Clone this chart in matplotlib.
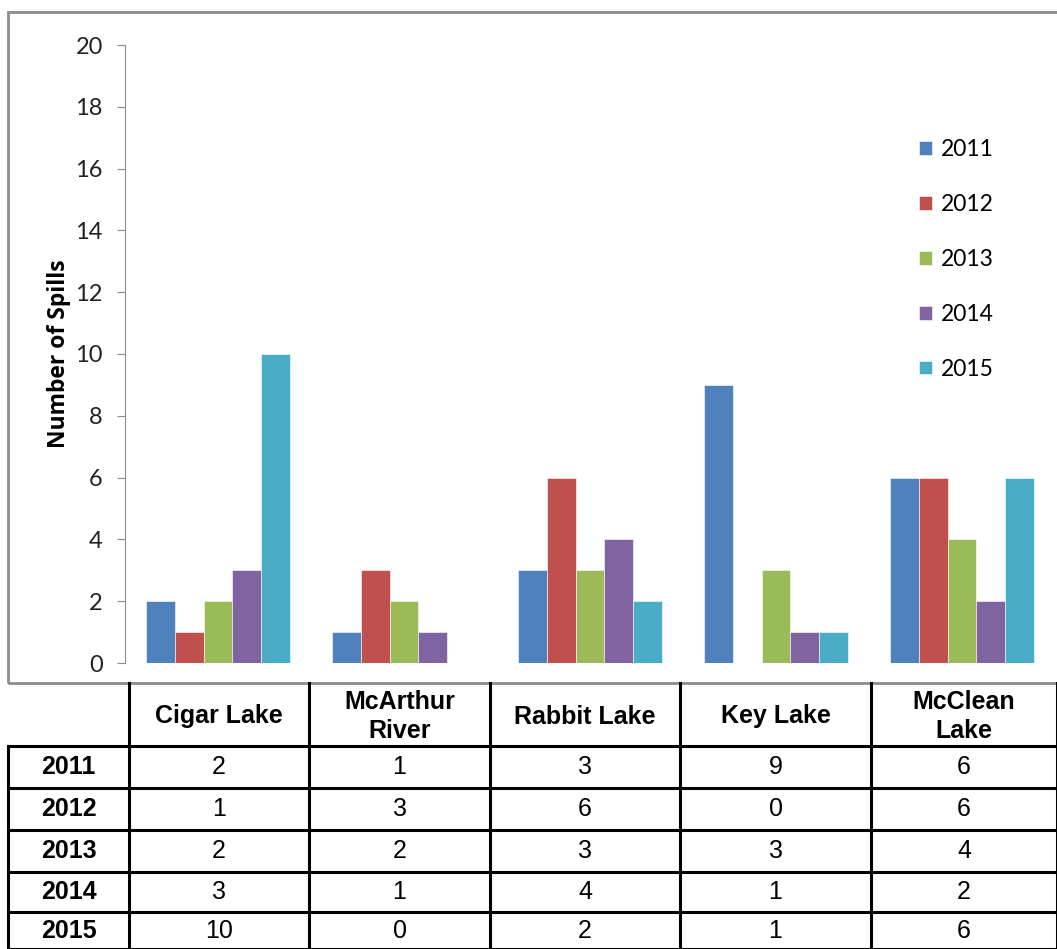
import matplotlib.pyplot as plt
from matplotlib.lines import Line2D
from matplotlib.patches import Rectangle
import numpy as np

mines = ['Cigar Lake', 'McArthur River', 'Rabbit Lake', 'Key Lake', 'McClean Lake']
header_labels = ['Cigar Lake', 'McArthur\nRiver', 'Rabbit Lake', 'Key Lake', 'McClean\nLake']
years = ['2011', '2012', '2013', '2014', '2015']
spills_2011 = [2, 1, 3, 9, 6]
spills_2012 = [1, 3, 6, 0, 6]
spills_2013 = [2, 2, 3, 3, 4]
spills_2014 = [3, 1, 4, 1, 2]
spills_2015 = [10, 0, 2, 1, 6]
series = [spills_2011, spills_2012, spills_2013, spills_2014, spills_2015]
colors = ['#4F81BD', '#C0504D', '#9BBB59', '#8064A2', '#4BACC6']

W, H = 1057, 949
fig = plt.figure(figsize=(W / 100, H / 100), dpi=100)


def fx(px):
    return px / W


def fy(py):
    return 1 - py / H


# chart area frame
fig.add_artist(Rectangle((fx(8), fy(683)), fx(1070) - fx(8), fy(12) - fy(683),
                         transform=fig.transFigure, fill=False,
                         edgecolor='#8c8c8c', linewidth=2))

ax = fig.add_axes([fx(125), fy(663), fx(1055) - fx(125), fy(45) - fy(663)])
x = np.arange(len(mines))
bw = 0.154
for i, (vals, yr) in enumerate(zip(series, years)):
    ax.bar(x + (i - 2) * bw, vals, bw, color=colors[i], label=yr,
           edgecolor='white', linewidth=0.4)

ax.set_xlim(-0.5, 4.5)
ax.set_ylim(0, 20)
ax.set_yticks(range(0, 21, 2))
ax.set_xticks([])
for s in ['top', 'right', 'bottom']:
    ax.spines[s].set_visible(False)
ax.spines['left'].set_color('#8c8c8c')
ax.tick_params(axis='y', direction='out', length=6, color='#8c8c8c',
               labelsize=17, pad=10)
for t in ax.get_yticklabels():
    t.set_fontfamily('Lato')
    t.set_color('#222222')
ax.set_ylabel('Number of Spills', fontsize=16.5, fontweight='bold',
              fontfamily='Open Sans')
ax.yaxis.set_label_coords(-(125 - 71) / (1055 - 125), 0.5)

ax.legend(loc='upper left', bbox_to_anchor=(fx(919), fy(139)),
          bbox_transform=fig.transFigure, frameon=False,
          prop={'family': 'Lato', 'size': 16.5}, handlelength=0.55,
          handleheight=0.55, handletextpad=0.4, labelspacing=1.48,
          borderpad=0, borderaxespad=0)

# data table under the chart
col_x = [8, 129, 309, 490, 680, 871, 1057]
row_y = [683, 746, 788, 830, 872, 912, 949]
lw = 2.2


def hline(y, x0, x1):
    fig.add_artist(Line2D([fx(x0), fx(x1)], [fy(y), fy(y)], color='black',
                          linewidth=lw, transform=fig.transFigure))


def vline(x_, y0, y1):
    fig.add_artist(Line2D([fx(x_), fx(x_)], [fy(y0), fy(y1)], color='black',
                          linewidth=lw, transform=fig.transFigure))


for y in row_y[1:]:
    hline(y, col_x[0], col_x[-1])
for xv in col_x[1:]:
    vline(xv, row_y[0], row_y[-1])
vline(col_x[0], row_y[1], row_y[-1])

for j, lab in enumerate(header_labels):
    cx = (col_x[j + 1] + col_x[j + 2]) / 2
    cy = (row_y[0] + row_y[1]) / 2 + 2
    fig.text(fx(cx), fy(cy), lab, ha='center', va='center', fontsize=18,
             fontweight='bold', fontfamily='Liberation Sans', linespacing=1.3)

for r, (yr, vals) in enumerate(zip(years, series)):
    cy = (row_y[r + 1] + row_y[r + 2]) / 2
    fig.text(fx((col_x[0] + col_x[1]) / 2), fy(cy), yr, ha='center',
             va='center', fontsize=18, fontweight='bold',
             fontfamily='Liberation Sans')
    for j, v in enumerate(vals):
        cx = (col_x[j + 1] + col_x[j + 2]) / 2
        fig.text(fx(cx), fy(cy), str(v), ha='center', va='center',
                 fontsize=18, fontfamily='Liberation Sans')

fig.savefig('out.png', dpi=100)
